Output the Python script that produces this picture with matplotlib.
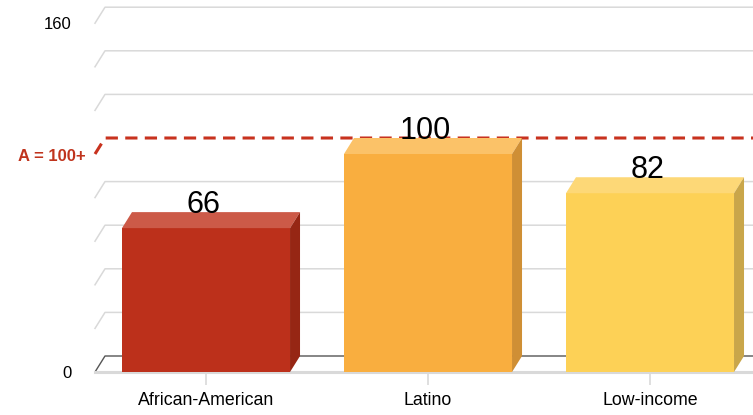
import matplotlib
matplotlib.use("Agg")
import matplotlib.pyplot as plt
from matplotlib.patches import Polygon

categories = ["African-American", "Latino", "Low-income"]
values = [66, 100, 82]
front_colors = ["#bc301b", "#f9ae3f", "#fdd156"]
top_colors = ["#cc5a48", "#fbc268", "#fdd877"]
side_colors = ["#962614", "#cf8f35", "#c9a64a"]
target = 100
target_label = "A = 100+"
y_ticks = [0, 160]
grid_values = [0, 20, 40, 60, 80, 100, 120, 140, 160]

plt.rcParams["font.family"] = ["Liberation Sans", "DejaVu Sans"]

W, H = 753, 415
fig = plt.figure(figsize=(W / 100, H / 100), dpi=100)
px_per_unit = 2.18
ax = fig.add_axes([95 / W, 43 / H, (W - 95) / W, 160 * px_per_unit / H])
xmin, xmax = -0.5, 2.464
ax.set_xlim(xmin, xmax)
ax.set_ylim(0, 160)

# 3d depth offset, in pixels -> data units
dx = 10 / ((W - 95) / (xmax - xmin))
dy = 16 / px_per_unit

grid_col = "#d9d9d9"
for v in grid_values:
    if v == target or v == 0:
        continue
    ax.plot([xmin, xmin + dx, xmax + 1], [v, v + dy, v + dy], color=grid_col,
            lw=1.1, zorder=1, clip_on=False)

# floor
ax.plot([xmin, xmin + dx, xmax + 1], [0, dy, dy], color="#555555", lw=1.0,
        zorder=1, clip_on=False)
ax.plot([xmin, xmax + 1], [0, 0], color=grid_col, lw=2.2, zorder=1, clip_on=False)

# target line
ax.plot([xmin, xmin + dx, xmax + 1], [target, target + dy, target + dy],
        color="#c8321e", lw=2.2, ls=(0, (4, 2.4)), zorder=2, clip_on=False)
ax.annotate(target_label, xy=(xmin, target), xytext=(-7, -1.5),
            textcoords="offset points", ha="right", va="center",
            color="#c0341d", fontsize=12, fontweight="bold")

x = range(len(categories))
w = 0.757
ax.bar(x, values, width=w, color=front_colors, zorder=3)
for i, v in enumerate(values):
    l, r = i - w / 2, i + w / 2
    ax.add_patch(Polygon([(l, v), (r, v), (r + dx, v + dy), (l + dx, v + dy)],
                         closed=True, color=top_colors[i], lw=0, zorder=3, clip_on=False))
    ax.add_patch(Polygon([(r, 0), (r + dx, dy), (r + dx, v + dy), (r, v)],
                         closed=True, color=side_colors[i], lw=0, zorder=3, clip_on=False))
    ax.text(i - 0.012, v + dy - 0.5, str(v), ha="center", va="baseline", fontsize=22,
            zorder=5, clip_on=False)

for s in ax.spines.values():
    s.set_visible(False)
ax.set_xticks(list(x))
ax.set_xticklabels(categories, fontsize=12.8)
ax.tick_params(axis="x", length=9.5, color=grid_col, width=1.2, pad=5)
ax.set_yticks(y_ticks)
ax.set_yticklabels([str(t) for t in y_ticks], fontsize=12)
ax.tick_params(axis="y", length=0, pad=17)
ax.patch.set_visible(False)

fig.savefig("out.png", dpi=100)
